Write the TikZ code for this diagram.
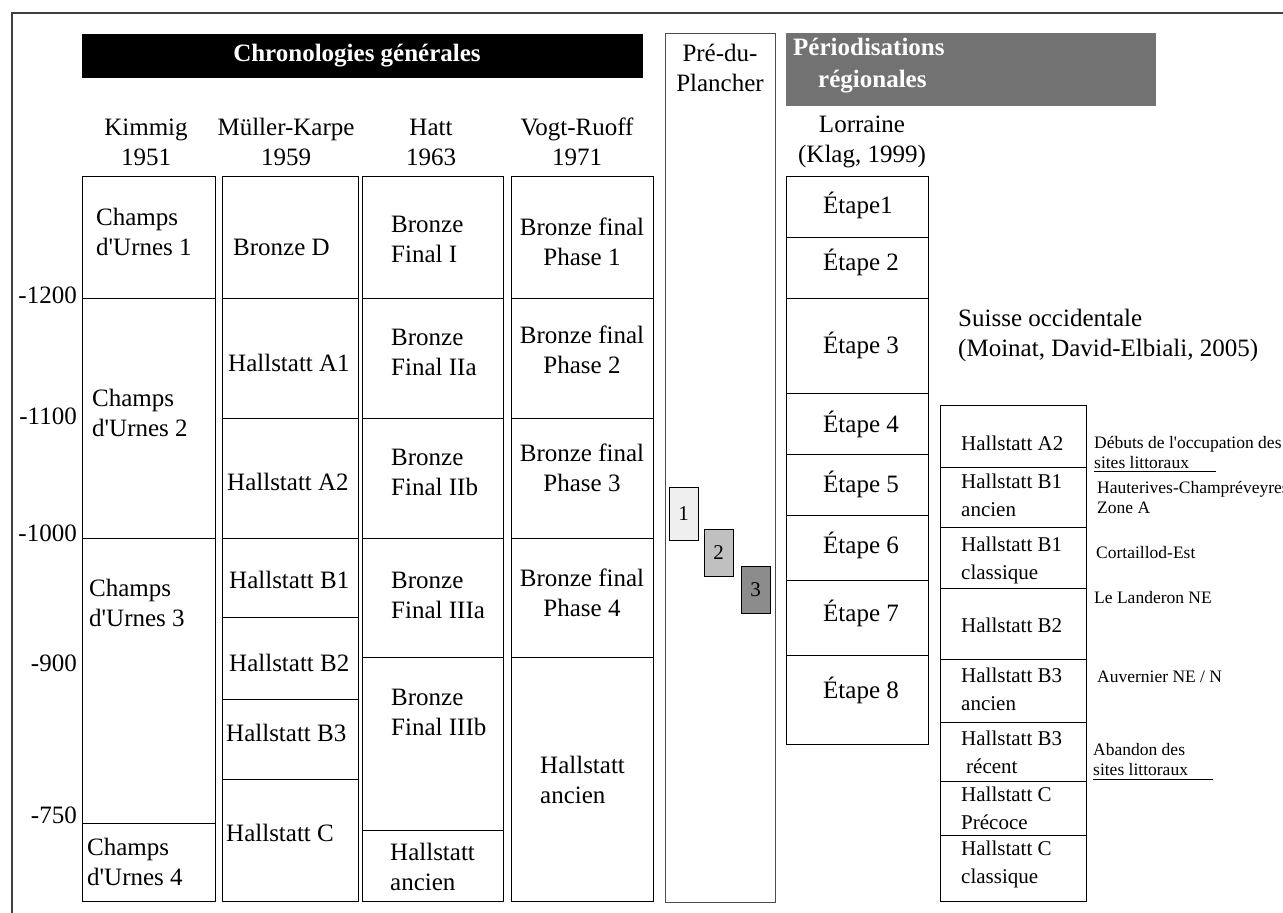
\documentclass[tikz,border=0pt]{standalone}
\usepackage{fontspec}
\setmainfont{Liberation Serif}
\usepackage{xcolor}
\definecolor{headgrey}{RGB}{114,114,114}
\definecolor{phaseA}{RGB}{239,239,239}
\definecolor{phaseB}{RGB}{192,192,192}
\definecolor{phaseC}{RGB}{140,140,140}
\usepackage{tikz}
\usetikzlibrary{positioning}
\newcommand{\bigsz}{\fontsize{25}{30}\selectfont}
\newcommand{\midsz}{\fontsize{21}{28}\selectfont}
\newcommand{\notesz}{\fontsize{17.5}{20}\selectfont}
\newcommand{\apos}{\textquotesingle}

\begin{document}
\begin{tikzpicture}[x=1pt, y=-1pt,
    col/.style={draw=black, line width=0.9pt},
    txt/.style={font=\bigsz, inner sep=0pt, anchor=west, align=left},
    ctxt/.style={font=\bigsz, inner sep=0pt, align=center},
    stxt/.style={font=\midsz, inner sep=0pt, anchor=west, align=left},
    note/.style={font=\notesz, inner sep=0pt, anchor=west, align=left},
    phasebox/.style={draw=black, line width=0.7pt, minimum width=29pt, inner sep=0pt, font=\midsz}]
    \useasboundingbox (0,0) rectangle (1283,913);

    % Frame
    \draw[line width=1.8pt, black!75] (11,13) -- (1283,13);
    \draw[line width=1.2pt, black!75] (12,13) -- (12,913);

    % Headers
    \fill[black] (82,34) rectangle (643,78);
    \node[font=\bigsz\bfseries, text=white, inner sep=0pt] (chrono) at (357,56) {Chronologies générales};
    \fill[headgrey] (786,33) rectangle (1156,106);
    \node[font=\fontsize{25}{32}\selectfont\bfseries, text=white, inner sep=0pt, anchor=west, align=left] (perio) at (793,66) {Périodisations\\\hspace*{25pt}régionales};

    % Column headings
    \node[ctxt] (hkim) at (146,142) {Kimmig\\1951};
    \node[ctxt] (hmk) at (286,142) {Müller-Karpe\\1959};
    \node[ctxt] (hhatt) at (431,142) {Hatt\\1963};
    \node[ctxt] (hvogt) at (577,142) {Vogt-Ruoff\\1971};
    \node[ctxt] (hlor) at (862,142) {Lorraine\\(Klag, 1999)};
    \node[txt] (hsui) at (958,335) {Suisse occidentale\\(Moinat, David-Elbiali, 2005)};

    % Time axis
    \foreach \v/\y in {1200/295, 1100/416, 1000/533, 900/663, 750/815}
        \node[font=\bigsz, inner sep=0pt, anchor=east] (ax\v) at (77,\y) {-\v};

    % Kimmig 1951
    \draw[col] (82,176) rectangle (215,901);
    \foreach \y in {298,538,823} \draw[col] (82,\y) -- (215,\y);
    \node[txt] (ku1) at (96,232) {Champs\\d\apos Urnes 1};
    \node[txt] (ku2) at (92,413) {Champs\\d\apos Urnes 2};
    \node[txt] (ku3) at (89,603) {Champs\\d\apos Urnes 3};
    \node[txt] (ku4) at (87,862) {Champs\\d\apos Urnes 4};

    % Müller-Karpe 1959
    \draw[col] (222,176) rectangle (358,901);
    \foreach \y in {298,418,538,617,699,779} \draw[col] (222,\y) -- (358,\y);
    \node[txt] (mkd) at (233,247) {Bronze D};
    \node[txt] (mka1) at (228,363) {Hallstatt A1};
    \node[txt] (mka2) at (227,482) {Hallstatt A2};
    \node[txt] (mkb1) at (229,580) {Hallstatt B1};
    \node[txt] (mkb2) at (229,663) {Hallstatt B2};
    \node[txt] (mkb3) at (226,733) {Hallstatt B3};
    \node[txt] (mkc) at (226,833) {Hallstatt C};

    % Hatt 1963
    \draw[col] (362,176) rectangle (503,901);
    \foreach \y in {298,418,538,657,830} \draw[col] (362,\y) -- (503,\y);
    \node[txt] (bf1) at (391,239) {Bronze\\Final I};
    \node[txt] (bf2a) at (391,352) {Bronze\\Final IIa};
    \node[txt] (bf2b) at (391,472) {Bronze\\Final IIb};
    \node[txt] (bf3a) at (391,595) {Bronze\\Final IIIa};
    \node[txt] (bf3b) at (391,712) {Bronze\\Final IIIb};
    \node[txt] (hatha) at (390,867) {Hallstatt\\ancien};

    % Vogt-Ruoff 1971
    \draw[col] (511,176) rectangle (653,901);
    \foreach \y in {298,418,538,657} \draw[col] (511,\y) -- (653,\y);
    \foreach \n/\y in {1/242, 2/350, 3/468, 4/593}
        \node[ctxt] (vr\n) at (582,\y) {Bronze final\\Phase \n};
    \node[txt] (vrha) at (540,780) {Hallstatt\\ancien};

    % Pré-du-Plancher
    \draw[col, draw=black!70] (665,33) rectangle (775,902);
    \node[ctxt] (hpre) at (720,68) {Pré-du-\\Plancher};
    \node[phasebox, fill=phaseA, minimum height=53pt] (p1) at (683.5,513.5) {1};
    \node[phasebox, fill=phaseB, minimum height=47pt] (p2) at (718.5,552.5) {2};
    \node[phasebox, fill=phaseC, minimum height=47pt] (p3) at (755.5,589.5) {3};

    % Lorraine
    \draw[col] (786,176) rectangle (928,744);
    \foreach \y in {237,298,393,454,515,580,655} \draw[col] (786,\y) -- (928,\y);
    \node[txt] (et1) at (823,205) {Étape1};
    \foreach \n/\y in {2/262, 3/345, 4/424, 5/484, 6/545, 7/613, 8/690}
        \node[txt] (et\n) at (823,\y) {Étape \n};

    % Suisse occidentale
    \draw[col] (940,405) rectangle (1086,901);
    \foreach \y in {467,527,588,659,722,781,835} \draw[col] (940,\y) -- (1086,\y);
    \node[stxt] (sa2) at (961,443) {Hallstatt A2};
    \node[stxt] (sb1a) at (961,495) {Hallstatt B1\\ancien};
    \node[stxt] (sb1c) at (961,560) {Hallstatt B1\\classique};
    \node[stxt] (sb2) at (961,625) {Hallstatt B2};
    \node[stxt] (sb3a) at (961,689) {Hallstatt B3\\ancien};
    \node[stxt] (sb3r) at (961,752) {Hallstatt B3\\\hspace*{5pt}récent};
    \node[stxt] (scp) at (961,808) {Hallstatt C\\Précoce};
    \node[stxt] (scc) at (961,864) {Hallstatt C\\classique};

    % Sites
    \node[note] (debut) at (1094,452) {Débuts de l\apos occupation des\\sites littoraux};
    \draw[line width=0.9pt] (debut.south west) ++(0,3) -- ++(122,0);
    \node[note] (haut) at (1097,497) {Hauterives-Champréveyres\\Zone A};
    \node[note] (cort) at (1096,553) {Cortaillod-Est};
    \node[note] (land) at (1094,598) {Le Landeron NE};
    \node[note] (auv) at (1097,677) {Auvernier NE / N};
    \node[note] (aband) at (1093,760) {Abandon des\\sites littoraux};
    \draw[line width=0.9pt] (aband.south west) ++(0,3) -- ++(120,0);
\end{tikzpicture}
\end{document}
